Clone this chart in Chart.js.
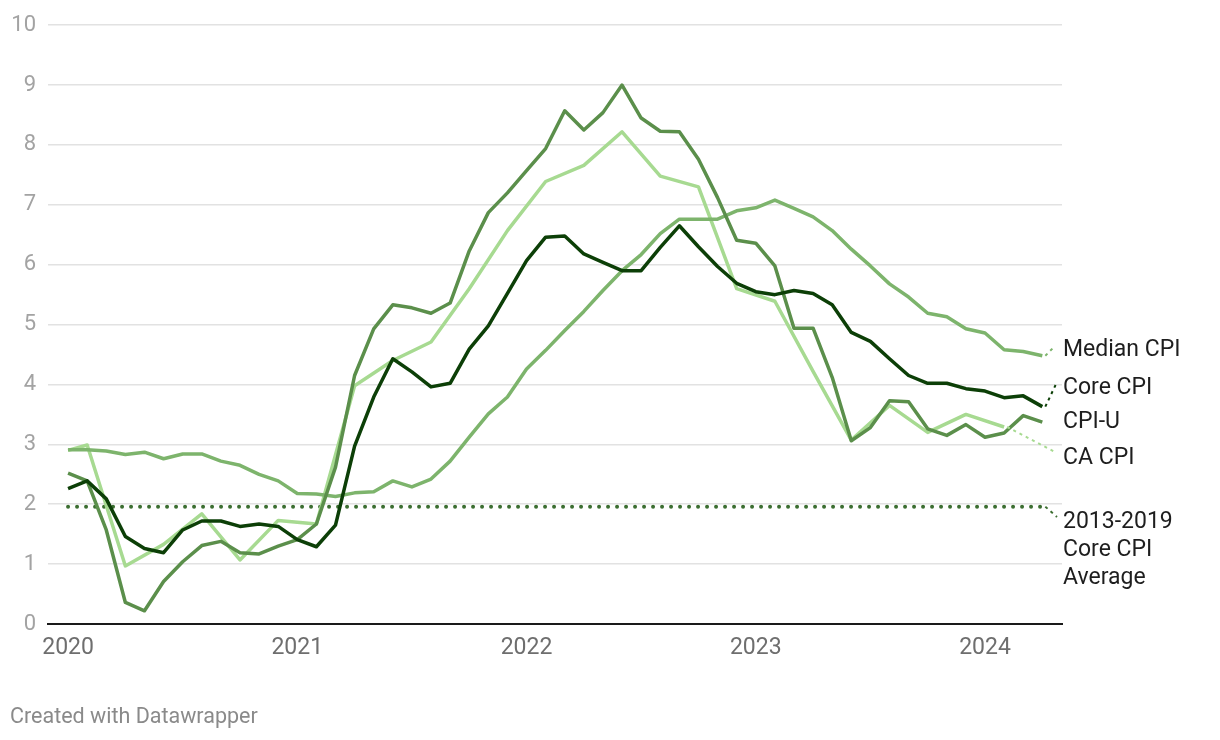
<!DOCTYPE html>
<html>
<head>
<meta charset="utf-8">
<script src="https://cdn.jsdelivr.net/npm/chart.js@4/dist/chart.umd.min.js"></script>
<style>
  body { margin:0; background:#fff; }
  #wrap { position:relative; width:1220px; height:740px; }
  #footer { position:absolute; left:10px; top:703px; font:21.5px Roboto, sans-serif; color:#8a8a8a; }
</style>
</head>
<body>
<div id="wrap">
  <canvas id="chart" width="1220" height="740"></canvas>
  <div id="footer">Created with Datawrapper</div>
</div>
<script>
// monthly, Jan 2020 .. Apr 2024
const months = [];
for (let y = 2020; y <= 2024; y++) for (let m = 1; m <= 12; m++) if (months.length < 52) months.push(`${y}-${String(m).padStart(2,'0')}`);
const yearTicks = ['2020','2021','2022','2023','2024'];

const medianCpi = [2.91,2.91,2.89,2.83,2.87,2.76,2.84,2.84,2.72,2.65,2.50,2.39,
  2.18,2.17,2.13,2.19,2.21,2.39,2.29,2.42,2.72,3.12,3.51,3.79,
  4.26,4.57,4.90,5.22,5.57,5.90,6.17,6.52,6.76,6.76,6.76,6.90,
  6.95,7.08,6.94,6.80,6.57,6.26,5.98,5.68,5.46,5.19,5.13,4.93,
  4.86,4.58,4.55,4.48];
const coreCpi = [2.26,2.39,2.09,1.46,1.26,1.19,1.57,1.72,1.72,1.63,1.67,1.63,
  1.41,1.29,1.65,2.97,3.79,4.43,4.21,3.96,4.02,4.59,4.98,5.52,
  6.07,6.46,6.48,6.18,6.04,5.90,5.90,6.29,6.65,6.30,5.97,5.69,
  5.55,5.50,5.57,5.52,5.33,4.87,4.72,4.43,4.15,4.02,4.02,3.93,
  3.89,3.78,3.81,3.63];
const cpiU = [2.52,2.39,1.57,0.36,0.22,0.71,1.04,1.31,1.38,1.19,1.17,1.30,
  1.41,1.67,2.62,4.15,4.93,5.33,5.28,5.19,5.36,6.23,6.87,7.20,
  7.57,7.94,8.57,8.25,8.54,9.00,8.45,8.23,8.22,7.76,7.12,6.41,
  6.36,5.98,4.94,4.94,4.12,3.06,3.28,3.73,3.71,3.26,3.15,3.33,
  3.12,3.19,3.48,3.37];
// California CPI is bimonthly
const caCpi = [2.90,2.99,null,0.97,null,1.33,null,1.84,null,1.07,null,1.73,
  null,1.67,null,3.98,null,4.40,null,4.71,null,5.60,null,6.57,
  null,7.39,null,7.66,null,8.22,null,7.48,null,7.30,null,5.60,
  null,5.39,null,4.22,null,3.07,null,3.65,null,3.20,null,3.50,
  null,3.29,null,null];
const avgCore = months.map(() => 1.96);

const C_CORE = '#0c3f07', C_CPIU = '#5b8f4b', C_MED = '#7db46c', C_CA = '#a7da91', C_AVG = '#3c6e31';

const pts = arr => arr.map((v,i) => ({ x: i, y: v }));
const line = (label, data, color, extra) => Object.assign({
  label, data: pts(data), borderColor: color, borderWidth: 3.5, pointRadius: 0,
  tension: 0, fill: false, spanGaps: true, borderJoinStyle: 'round'
}, extra || {});

const endLabels = {
  id: 'endLabels',
  afterDatasetsDraw(chart) {
    const { ctx, scales: { x, y } } = chart;
    const last = 51;
    const lines = [
      { from: [x.getPixelForValue(last), y.getPixelForValue(medianCpi[last])], to: [1053, 348], color: C_MED },
      { from: [x.getPixelForValue(last), y.getPixelForValue(coreCpi[last])], to: [1057, 382], color: C_CORE },
      { from: [x.getPixelForValue(49), y.getPixelForValue(caCpi[49])], to: [1055, 452], color: C_CA },
      { from: [x.getPixelForValue(last), y.getPixelForValue(avgCore[last])], to: [1057, 517], color: C_AVG }
    ];
    ctx.save();
    ctx.lineWidth = 2;
    ctx.setLineDash([3, 4]);
    lines.forEach(l => {
      ctx.strokeStyle = l.color;
      ctx.beginPath(); ctx.moveTo(l.from[0] + 3, l.from[1]); ctx.lineTo(l.to[0], l.to[1]); ctx.stroke();
    });
    ctx.setLineDash([]);
    ctx.font = '23px Roboto, sans-serif';
    ctx.fillStyle = '#1e1e1e';
    ctx.textBaseline = 'middle';
    ctx.textAlign = 'left';
    [['Median CPI', 350], ['Core CPI', 388], ['CPI-U', 422], ['CA CPI', 458],
     ['2013-2019', 522], ['Core CPI', 550], ['Average', 578]].forEach(([t, py]) => ctx.fillText(t, 1063, py));
    ctx.restore();
  }
};

new Chart(document.getElementById('chart'), {
  type: 'line',
  data: {
    datasets: [
      line('Core CPI', coreCpi, C_CORE),
      line('CPI-U', cpiU, C_CPIU),
      line('Median CPI', medianCpi, C_MED),
      line('CA CPI', caCpi, C_CA),
      line('2013-2019 Core CPI Average', avgCore, C_AVG, { borderDash: [0, 9], borderCapStyle: 'round', borderWidth: 4 })
    ]
  },
  options: {
    responsive: false,
    devicePixelRatio: 1,
    animation: false,
    layout: { padding: { left: 0, right: 158, top: 24, bottom: 76 } },
    plugins: { legend: { display: false }, tooltip: { enabled: false } },
    scales: {
      x: {
        type: 'linear', min: -1.05, max: 52.03,
        grid: { display: false, drawTicks: false },
        border: { display: true, color: '#1a1a1a', width: 2 },
        ticks: {
          padding: 10, autoSkip: false, maxRotation: 0,
          font: { family: 'Roboto', size: 23 }, color: '#6e6e6e',
          callback: v => yearTicks[v / 12] ?? ''
        },
        afterBuildTicks: s => { s.ticks = yearTicks.map((_, k) => ({ value: k * 12 })); },
        afterFit: s => { s.height = 40; }
      },
      y: {
        min: 0, max: 10,
        grid: { color: '#e2e2e2', lineWidth: 1.5, drawTicks: false },
        border: { display: false },
        ticks: { stepSize: 1, padding: 12, font: { family: 'Roboto', size: 22 }, color: '#a3a3a3' },
        afterFit: s => { s.width = 48; }
      }
    }
  },
  plugins: [endLabels]
});
</script>
</body>
</html>
